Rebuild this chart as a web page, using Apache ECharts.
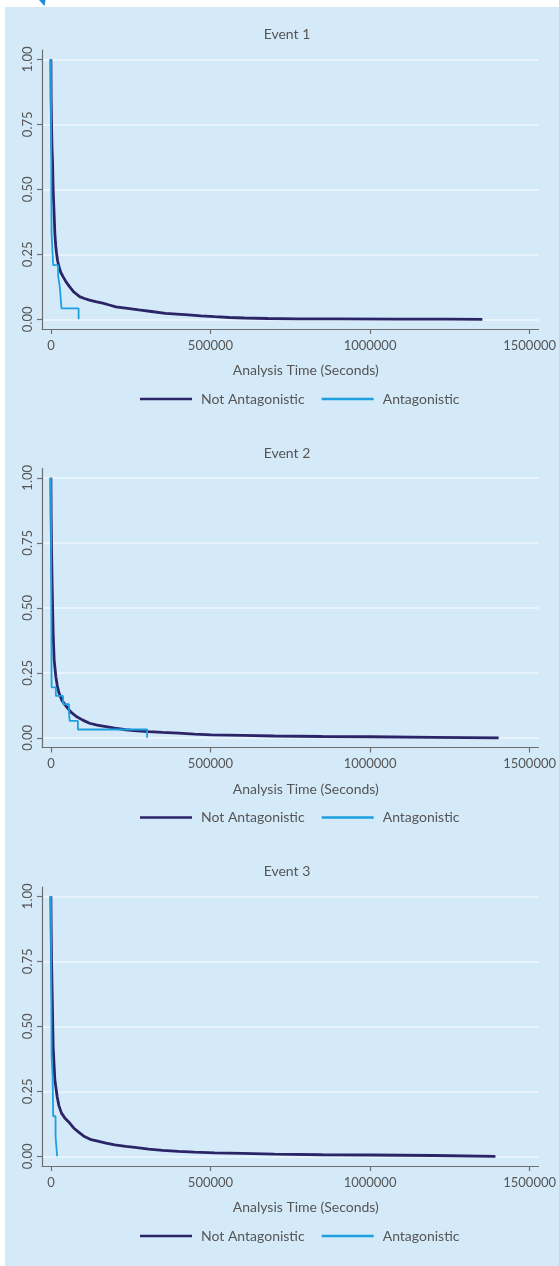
<!DOCTYPE html>
<html><head><meta charset="utf-8">
<script src="https://cdn.jsdelivr.net/npm/echarts@6/dist/echarts.min.js"></script>
<style>html,body{margin:0;padding:0;background:#ffffff}#c{width:559px;height:1266px}</style>
</head><body><div id="c"></div>
<script>
// ---------- data ----------
const panelTitles = ['Event 1', 'Event 2', 'Event 3'];
const seriesNames = ['Not Antagonistic', 'Antagonistic'];
const xTicks = [0, 500000, 1000000, 1500000];
const yTicks = [0, 0.25, 0.5, 0.75, 1];
const xAxisTitle = 'Analysis Time (Seconds)';

// Event 1
const ev1NotTime = [0, 800, 2000, 3500, 5300, 7000, 9300, 12400, 15000, 17700, 21000, 25700, 31000, 38100, 47000, 58900, 72000, 89900, 105000, 120900, 140000, 162100, 183000, 203600, 240000, 275800, 315000, 358600, 395000, 430800, 470000, 513500, 560000, 606500, 680000, 771700, 900000, 1081500, 1250000, 1352000];
const ev1NotSurv = [1, 0.85, 0.75, 0.66, 0.6, 0.5, 0.43, 0.33, 0.285, 0.254, 0.225, 0.2, 0.18, 0.164, 0.145, 0.125, 0.105, 0.087, 0.08, 0.074, 0.068, 0.062, 0.055, 0.048, 0.042, 0.036, 0.03, 0.023, 0.02, 0.017, 0.013, 0.01, 0.007, 0.005, 0.003, 0.002, 0.0015, 0.001, 0.0005, 0];
const ev1AntTime = [0, 700, 1400, 2000, 7100, 22600, 27900, 33200, 86800];
const ev1AntSurv = [1, 0.75, 0.5, 0.333, 0.208, 0.167, 0.125, 0.042, 0];

// Event 2
const ev2NotTime = [0, 800, 2000, 4000, 7100, 10200, 15500, 20000, 25700, 35000, 48700, 62000, 79600, 100000, 120900, 145000, 172600, 200000, 234600, 270000, 306800, 350000, 399800, 450000, 503000, 600000, 700000, 850000, 1000000, 1200000, 1403000];
const ev2NotSurv = [1, 0.85, 0.72, 0.58, 0.4, 0.3, 0.235, 0.2, 0.171, 0.143, 0.12, 0.1, 0.082, 0.068, 0.056, 0.049, 0.043, 0.037, 0.031, 0.027, 0.024, 0.021, 0.018, 0.014, 0.011, 0.009, 0.007, 0.005, 0.004, 0.002, 0];
const ev2AntTime = [0, 700, 1400, 2200, 15500, 38100, 56700, 58900, 84600, 301500];
const ev2AntSurv = [1, 0.7, 0.45, 0.194, 0.161, 0.129, 0.097, 0.065, 0.032, 0];

// Event 3
const ev3NotTime = [0, 800, 2000, 4000, 7100, 12400, 19500, 25000, 33200, 45000, 58900, 72000, 89900, 105000, 126100, 150000, 172600, 200000, 234600, 270000, 306800, 350000, 399800, 450000, 513500, 600000, 700000, 850000, 1000000, 1200000, 1393000];
const ev3NotSurv = [1, 0.88, 0.75, 0.627, 0.42, 0.294, 0.23, 0.195, 0.166, 0.145, 0.128, 0.108, 0.09, 0.076, 0.064, 0.057, 0.051, 0.044, 0.038, 0.033, 0.028, 0.023, 0.019, 0.016, 0.013, 0.011, 0.008, 0.006, 0.005, 0.003, 0];
const ev3AntTime = [0, 1000, 2200, 5300, 6200, 7100, 14600, 19500];
const ev3AntSurv = [1, 0.692, 0.385, 0.308, 0.231, 0.154, 0.077, 0];

const panels = [
  { not: [ev1NotTime, ev1NotSurv], ant: [ev1AntTime, ev1AntSurv] },
  { not: [ev2NotTime, ev2NotSurv], ant: [ev2AntTime, ev2AntSurv] },
  { not: [ev3NotTime, ev3NotSurv], ant: [ev3AntTime, ev3AntSurv] }
];

// ---------- style ----------
const FONT = 'Lato';
const TXT = '#555555';
const AX = '#6e6e6e';
const BG = '#d5eaf9';
const GRIDC = '#eef7fe';
const DARK = '#2b2568';
const LIGHT = '#1d9fe0';
const DY = 418.5;

const zip = (t, s) => t.map((v, i) => [v, s[i]]);

const grid = [], xAxis = [], yAxis = [], series = [], legend = [];
const graphic = [
  { type: 'rect', z: -100, shape: { x: 5, y: 7, width: 554, height: 1259 }, style: { fill: BG } },
  { type: 'polygon', shape: { points: [[39, 0], [45.5, 0], [44.5, 6]] }, style: { fill: '#1b8fd8' } }
];

panels.forEach((p, k) => {
  const dy = k * DY;
  grid.push({ left: 42, top: 50 + dy, width: 502, height: 279 });
  xAxis.push({
    gridIndex: k, type: 'value', min: -27893, max: 1527893,
    axisLine: { show: true, onZero: false, lineStyle: { color: AX, width: 1.2 } },
    axisTick: { show: true, length: 5, customValues: xTicks, lineStyle: { color: AX, width: 1.2 } },
    axisLabel: { customValues: xTicks, margin: 10, fontSize: 13, color: TXT, fontFamily: FONT,
                 formatter: v => String(Math.round(v)) },
    splitLine: { show: false }
  });
  yAxis.push({
    gridIndex: k, type: 'value', min: -0.0373, max: 1.0358,
    axisLine: { show: true, onZero: false, lineStyle: { color: AX, width: 1.2 } },
    axisTick: { show: true, length: 5, customValues: yTicks, lineStyle: { color: AX, width: 1.2 } },
    axisLabel: { customValues: yTicks, rotate: 90, margin: 8, fontSize: 13, color: TXT, fontFamily: FONT,
                 formatter: v => Number(v).toFixed(2) },
    splitLine: { show: true, lineStyle: { color: GRIDC, width: 1.6 } }
  });
  series.push({
    type: 'line', name: seriesNames[0], xAxisIndex: k, yAxisIndex: k,
    data: zip(p.not[0], p.not[1]), symbol: 'none', animation: false,
    lineStyle: { color: DARK, width: 2.8 }, itemStyle: { color: DARK }, z: 3
  });
  series.push({
    type: 'line', name: seriesNames[1], xAxisIndex: k, yAxisIndex: k, step: 'end',
    data: zip(p.ant[0], p.ant[1]), symbol: 'none', animation: false,
    lineStyle: { color: LIGHT, width: 1.8 }, itemStyle: { color: LIGHT }, z: 4
  });
  legend.push({
    data: seriesNames, left: 135, top: 387 + dy, orient: 'horizontal',
    icon: 'rect', itemWidth: 52, itemHeight: 2.5, itemGap: 17, selectedMode: false,
    textStyle: { fontSize: 14, color: TXT, fontFamily: FONT, padding: [0, 0, 0, 4] }
  });
  graphic.push({ type: 'text', style: { text: panelTitles[k], x: 287, y: 34.5 + dy, align: 'center', verticalAlign: 'middle',
                 fill: TXT, font: '14px ' + FONT } });
  graphic.push({ type: 'text', style: { text: xAxisTitle, x: 305.8, y: 370.7 + dy, align: 'center', verticalAlign: 'middle',
                 fill: TXT, font: '14px ' + FONT } });
});

const chart = echarts.init(document.getElementById('c'), null, { renderer: 'canvas' });
chart.setOption({ backgroundColor: '#ffffff', animation: false, grid, xAxis, yAxis, series, legend, graphic });
</script>
</body></html>
